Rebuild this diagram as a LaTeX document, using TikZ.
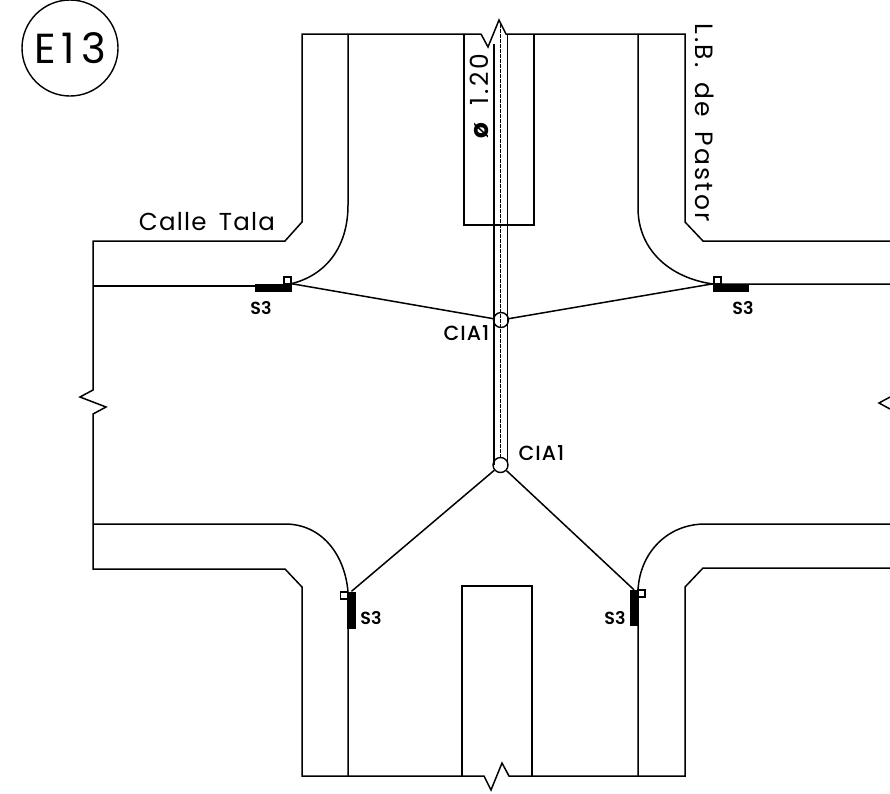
\documentclass[tikz,border=0pt]{standalone}
\usepackage{fontspec}
\setmainfont{Poppins}
\newfontfamily\cadfont[LetterSpace=5,WordSpace=1.6]{Poppins}
\newfontfamily\cadwide[LetterSpace=11,WordSpace=1.6]{Poppins}
\newfontfamily\cadtall[LetterSpace=9.5,WordSpace=1.6]{Poppins}
\newfontfamily\cadtitle[LetterSpace=14]{Poppins}
\newfontfamily\cadsmall[LetterSpace=5]{Poppins Medium}
\newfontfamily\cadsign[LetterSpace=1]{Poppins SemiBold}
\begin{document}
\begin{tikzpicture}[x=1pt,y=-1pt,
  road/.style={line width=1.5pt,line join=miter},
  thin pipe/.style={line width=1.5pt},
  axis/.style={line width=1.4pt,dash pattern=on 4pt off 1pt},
  blockbar/.style={fill=black,draw=none,inner sep=0pt,minimum width=#1},
  tag/.style={draw,line width=1.1pt,fill=white,inner sep=0pt,minimum size=7pt},
  chamber/.style={circle,draw,line width=1.4pt,fill=none,inner sep=0pt,minimum size=15pt},
  wire/.style={line width=1.5pt},
  biglabel/.style={font=\fontsize{24.5}{28}\selectfont\cadfont,inner sep=0pt},
  widelabel/.style={font=\fontsize{25}{28}\selectfont\cadwide,inner sep=0pt},
  talllabel/.style={font=\fontsize{25}{28}\selectfont\cadtall,inner sep=0pt},
  smalllabel/.style={font=\fontsize{20.5}{24}\selectfont\cadsmall,inner sep=0pt},
  s3label/.style={font=\fontsize{17.5}{20}\selectfont\cadsign,inner sep=0pt}]
\useasboundingbox (0,0) rectangle (890,793);
\fill[white] (0,0) rectangle (890,793);
% outer kerbs
\draw[road] (481,34) -- (302,34) -- (302,222) -- (285,241) -- (93,241) -- (93,390) -- (80,397) -- (106,407) -- (93,414) -- (93,569) -- (285,569) -- (302,587) -- (302,776) -- (484,776) -- (491,790) -- (502,763) -- (509,776) -- (685,776) -- (685,587) -- (703,568) -- (890,568);
\draw[road] (481,34) -- (488,47) -- (499,20) -- (506,34) -- (685,34) -- (685,222) -- (703,241) -- (890,241);
\draw[road] (890,397) -- (879,403) -- (890,409);
% inner kerbs
\draw[road] (93,286) -- (255,286);
\draw[road] (348,34) -- (348,205) .. controls (348,248) and (325,276) .. (290,284);
\draw[road] (638,34) -- (638,208) .. controls (638,250) and (670,278) .. (713,284) -- (890,284);
\draw[road] (93,524) -- (285,524) .. controls (322,524) and (345,555) .. (348,592) -- (348,776);
\draw[road] (890,524) -- (705,524) .. controls (668,524) and (640,552) .. (638,590) -- (638,776);
% medians
\draw[road] (464,34) -- (464,225) -- (534,225) -- (534,34);
\draw[road] (462,776) -- (462,586) -- (532,586) -- (532,776);
% chambers
\node[chamber] (cia1) at (501,320) {};
\node[chamber] (cia2) at (500.5,465) {};
% pipe
\coordinate (pipeTopL) at (494,44);
\coordinate (pipeTopR) at (507.5,34);
\coordinate (pipeTopC) at (500.5,24);
\draw[thin pipe] (pipeTopL) -- (pipeTopL |- cia2.west) ;
\draw[thin pipe] (pipeTopR) -- (pipeTopR |- cia2.east);
\draw[axis] (pipeTopC) -- (cia2.north);
% signal blocks
\node[blockbar=37pt,minimum height=8pt] (s1) at (273.5,288) {};
\node[blockbar=36pt,minimum height=8pt] (s2) at (731,288) {};
\node[blockbar=9pt,minimum height=37pt] (s3) at (351.5,610) {};
\node[blockbar=9pt,minimum height=36pt] (s4) at (634,608) {};
\node[tag] at (287.5,280.5) {};
\node[tag] at (717.5,280.5) {};
\node[tag] at (344,595.5) {};
\node[tag] at (641.5,593.5) {};
% connectors
\draw[wire] (s1.north east) -- (cia1);
\draw[wire] (s2.north west) -- (cia1);
\draw[wire] (s3.north) -- (cia2);
\draw[wire] (s4.north) -- (cia2);
% labels
\node[s3label] (t1) at (261,308) {S3};
\node[s3label] (t2) at (743,308) {S3};
\node[s3label] (t3) at (371,618) {S3};
\node[s3label] (t4) at (615,618) {S3};
\node[smalllabel] (c1) at (466.5,333) {CIA1};
\node[smalllabel] (c2) at (541.5,453) {CIA1};
\node[biglabel] (calle) at (207,222) {Calle Tala};
\node[talllabel,rotate=-90] (lb) at (705,123) {L.B. de Pastor};
\node[widelabel,rotate=90] (dia) at (479,96) {\textbf{ø} 1.20};
\node[circle,draw,line width=1.4pt,minimum size=96pt,inner sep=0pt,font=\fontsize{42}{46}\selectfont\cadtitle] (e13) at (70,48) {E13};
\end{tikzpicture}
\end{document}
